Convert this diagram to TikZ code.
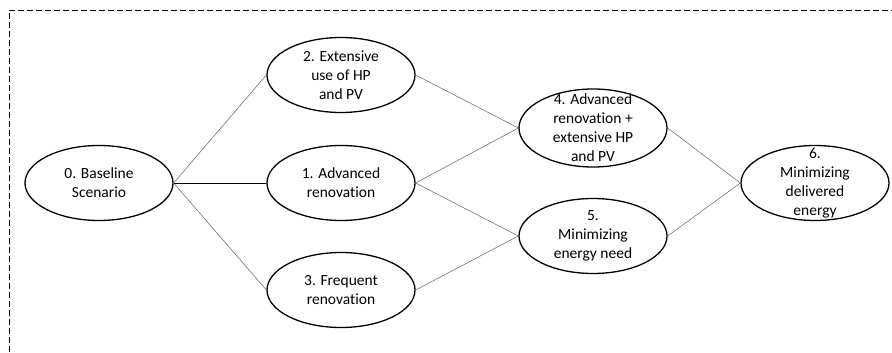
\documentclass[tikz,border=0pt]{standalone}
\usepackage{fontspec}
\setmainfont[Ligatures=NoCommon]{Carlito}
\usetikzlibrary{shapes.geometric}

\begin{document}
\begin{tikzpicture}[x=1pt,y=-1pt,
  scen/.style={ellipse,draw,line width=1.3pt,minimum width=148pt,
               minimum height=75pt,inner sep=0pt},
  scentext/.style={align=center,font=\fontsize{15.5}{19}\selectfont},
  link/.style={gray!85!black,line width=0.55pt},
  mainlink/.style={black,line width=1pt}]
  \useasboundingbox (0,0) rectangle (892,353);
  % frame, open to the right and bottom
  \draw[line width=0.9pt,dash pattern=on 6pt off 3pt] (9,370)--(9,10)--(900,10);
  % scenarios
  \node[scen,label={[scentext]center:0. Baseline\\Scenario}] (s0) at (99,183) {};
  \node[scen,label={[scentext]center:2. Extensive\\use of HP\\and PV}] (s2) at (341,75) {};
  \node[scen,label={[scentext]center:1. Advanced\\renovation}] (s1) at (341,183) {};
  \node[scen,label={[scentext]center:3. Frequent\\renovation}] (s3) at (341,290) {};
  \node[scen,minimum height=78pt,
        label={[scentext]center:4. Advanced\\renovation +\\extensive HP\\and PV}] (s4) at (593,128) {};
  \node[scen,label={[scentext]center:5.\\Minimizing\\energy need}] (s5) at (593,236) {};
  \node[scen,label={[scentext]center:6.\\Minimizing\\delivered\\energy}] (s6) at (815,183) {};
  % links
  \draw[mainlink] (s0.east)--(s1.west);
  \draw[link] (s0.east)--(s2.west);
  \draw[link] (s0.east)--(s3.west);
  \draw[link] (s2.east)--(s4.west);
  \draw[link] (s1.east)--(s4.west);
  \draw[link] (s1.east)--(s5.west);
  \draw[link] (s3.east)--(s5.west);
  \draw[link] (s4.east)--(s6.west);
  \draw[link] (s5.east)--(s6.west);
\end{tikzpicture}
\end{document}
